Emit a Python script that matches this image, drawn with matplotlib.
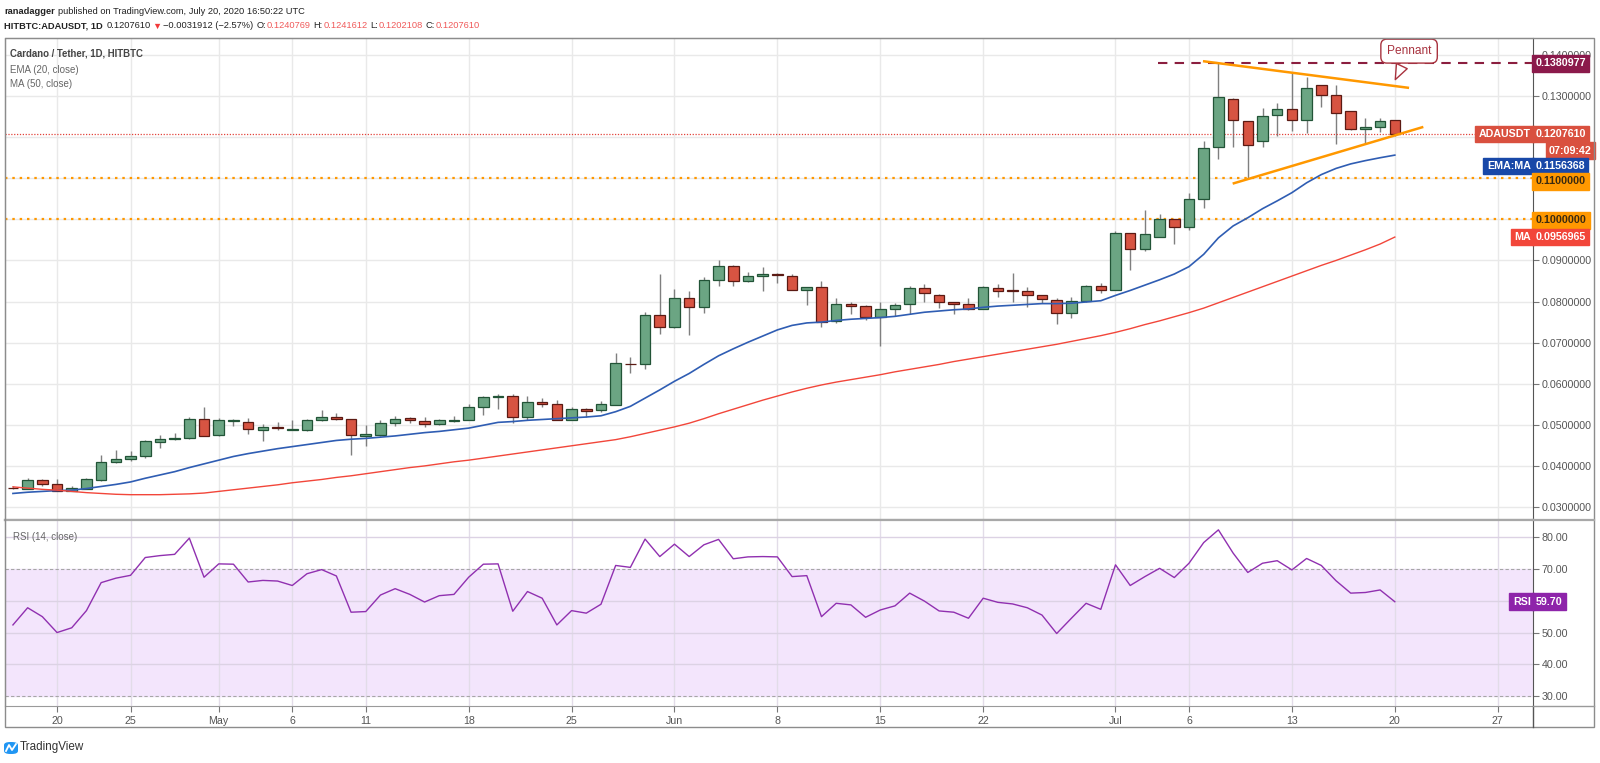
import numpy as np
import pandas as pd
import matplotlib
matplotlib.use('Agg')
import matplotlib.pyplot as plt
import matplotlib.dates as mdates
import matplotlib.transforms as mtrans
from matplotlib.patches import Rectangle, FancyBboxPatch
from matplotlib.lines import Line2D

plt.rcParams['font.family'] = ['Liberation Sans Narrow', 'Liberation Sans', 'DejaVu Sans']

# ── Data: ADA/USDT daily, Apr 17 - Jul 20 2020 ─────────────────────────
dates = pd.date_range('2020-04-17', periods=95, freq='D')

opens = [0.0347, 0.0344, 0.0365, 0.0356, 0.0340, 0.0345, 0.0366, 0.0409, 0.0417, 0.0423,
         0.0458, 0.0465, 0.0468, 0.0514, 0.0475, 0.0510, 0.0508, 0.0488, 0.0494, 0.0488,
         0.0487, 0.0512, 0.0519, 0.0514, 0.0474, 0.0476, 0.0504, 0.0517, 0.0510, 0.0502,
         0.0510, 0.0512, 0.0543, 0.0567, 0.0570, 0.0520, 0.0556, 0.0550, 0.0512, 0.0538,
         0.0537, 0.0549, 0.0649, 0.0648, 0.0767, 0.0739, 0.0808, 0.0787, 0.0853, 0.0887,
         0.0850, 0.0861, 0.0866, 0.0863, 0.0829, 0.0835, 0.0752, 0.0795, 0.0789, 0.0762,
         0.0783, 0.0794, 0.0833, 0.0815, 0.0798, 0.0794, 0.0782, 0.0834, 0.0827, 0.0825,
         0.0815, 0.0804, 0.0773, 0.0802, 0.0839, 0.0829, 0.0968, 0.0928, 0.0958, 0.1001,
         0.0981, 0.1050, 0.1176, 0.1294, 0.1239, 0.1191, 0.1253, 0.1269, 0.1243, 0.1326,
         0.1302, 0.1263, 0.1221, 0.1226, 0.1240769]
highs = [0.0350, 0.0371, 0.0369, 0.0367, 0.0351, 0.0370, 0.0427, 0.0439, 0.0437, 0.0463,
         0.0476, 0.0481, 0.0519, 0.0543, 0.0516, 0.0514, 0.0516, 0.0503, 0.0507, 0.0511,
         0.0513, 0.0537, 0.0530, 0.0515, 0.0500, 0.0512, 0.0521, 0.0520, 0.0519, 0.0514,
         0.0522, 0.0550, 0.0571, 0.0576, 0.0576, 0.0571, 0.0565, 0.0561, 0.0543, 0.0542,
         0.0559, 0.0675, 0.0666, 0.0775, 0.0867, 0.0831, 0.0825, 0.0860, 0.0900, 0.0890,
         0.0872, 0.0885, 0.0869, 0.0866, 0.0836, 0.0851, 0.0808, 0.0798, 0.0791, 0.0799,
         0.0796, 0.0838, 0.0843, 0.0818, 0.0800, 0.0808, 0.0837, 0.0843, 0.0870, 0.0835,
         0.0817, 0.0808, 0.0811, 0.0841, 0.0845, 0.0971, 0.0968, 0.1022, 0.1013, 0.1001,
         0.1063, 0.1191, 0.1381, 0.1295, 0.1240, 0.1272, 0.1282, 0.1358, 0.1347, 0.1326,
         0.1326, 0.1264, 0.1247, 0.1246, 0.1241612]
lows = [0.0344, 0.0343, 0.0352, 0.0338, 0.0338, 0.0344, 0.0364, 0.0406, 0.0413, 0.0419,
        0.0444, 0.0463, 0.0466, 0.0472, 0.0474, 0.0496, 0.0478, 0.0460, 0.0488, 0.0487,
        0.0486, 0.0510, 0.0512, 0.0427, 0.0448, 0.0474, 0.0497, 0.0505, 0.0495, 0.0499,
        0.0508, 0.0511, 0.0525, 0.0538, 0.0504, 0.0512, 0.0543, 0.0511, 0.0511, 0.0520,
        0.0531, 0.0548, 0.0626, 0.0636, 0.0721, 0.0735, 0.0719, 0.0772, 0.0839, 0.0839,
        0.0847, 0.0826, 0.0845, 0.0828, 0.0792, 0.0738, 0.0749, 0.0770, 0.0756, 0.0693,
        0.0764, 0.0770, 0.0800, 0.0784, 0.0769, 0.0780, 0.0781, 0.0812, 0.0800, 0.0786,
        0.0796, 0.0745, 0.0760, 0.0800, 0.0820, 0.0827, 0.0877, 0.0922, 0.0958, 0.0941,
        0.0975, 0.1028, 0.1148, 0.1176, 0.1101, 0.1177, 0.1203, 0.1216, 0.1209, 0.1273,
        0.1184, 0.1217, 0.1185, 0.1212, 0.1202108]
closes = [0.0346, 0.0365, 0.0356, 0.0339, 0.0347, 0.0368, 0.0409, 0.0417, 0.0425, 0.0461,
          0.0465, 0.0469, 0.0514, 0.0474, 0.0511, 0.0511, 0.0490, 0.0495, 0.0493, 0.0489,
          0.0512, 0.0519, 0.0514, 0.0476, 0.0478, 0.0504, 0.0514, 0.0512, 0.0502, 0.0511,
          0.0512, 0.0543, 0.0567, 0.0570, 0.0520, 0.0556, 0.0550, 0.0512, 0.0538, 0.0533,
          0.0550, 0.0650, 0.0648, 0.0767, 0.0739, 0.0808, 0.0787, 0.0853, 0.0887, 0.0850,
          0.0861, 0.0866, 0.0864, 0.0829, 0.0835, 0.0750, 0.0794, 0.0789, 0.0762, 0.0783,
          0.0791, 0.0833, 0.0821, 0.0798, 0.0794, 0.0782, 0.0835, 0.0826, 0.0825, 0.0817,
          0.0807, 0.0773, 0.0802, 0.0839, 0.0829, 0.0968, 0.0928, 0.0964, 0.1001, 0.0981,
          0.1050, 0.1174, 0.1298, 0.1242, 0.1181, 0.1251, 0.1269, 0.1243, 0.1320, 0.1302,
          0.1259, 0.1221, 0.1226, 0.1239, 0.1207610]

ema20 = [0.0333, 0.0336, 0.0338, 0.0340, 0.0341, 0.0345, 0.0350, 0.0355, 0.0361, 0.0370,
         0.0378, 0.0386, 0.0396, 0.0405, 0.0414, 0.0423, 0.0430, 0.0436, 0.0442, 0.0447,
         0.0452, 0.0457, 0.0462, 0.0465, 0.0467, 0.0470, 0.0473, 0.0477, 0.0481, 0.0484,
         0.0488, 0.0492, 0.0499, 0.0506, 0.0508, 0.0511, 0.0513, 0.0515, 0.0517, 0.0519,
         0.0522, 0.0532, 0.0545, 0.0565, 0.0585, 0.0606, 0.0625, 0.0647, 0.0668, 0.0685,
         0.0701, 0.0716, 0.0731, 0.0742, 0.0748, 0.0750, 0.0754, 0.0757, 0.0759, 0.0761,
         0.0764, 0.0769, 0.0774, 0.0777, 0.0780, 0.0782, 0.0786, 0.0789, 0.0791, 0.0793,
         0.0795, 0.0795, 0.0796, 0.0799, 0.0802, 0.0815, 0.0827, 0.0840, 0.0853, 0.0867,
         0.0885, 0.0915, 0.0955, 0.0984, 0.1004, 0.1026, 0.1045, 0.1065, 0.1089, 0.1109,
         0.1124, 0.1135, 0.1143, 0.1150, 0.1156368]
ma50 = [0.0349, 0.0346, 0.0343, 0.0341, 0.0338, 0.0335, 0.0333, 0.0331, 0.0330, 0.0330,
        0.0330, 0.0331, 0.0332, 0.0334, 0.0338, 0.0342, 0.0346, 0.0350, 0.0354, 0.0359,
        0.0363, 0.0367, 0.0372, 0.0376, 0.0381, 0.0386, 0.0391, 0.0396, 0.0400, 0.0405,
        0.0410, 0.0414, 0.0419, 0.0424, 0.0429, 0.0434, 0.0439, 0.0444, 0.0449, 0.0454,
        0.0459, 0.0464, 0.0471, 0.0479, 0.0487, 0.0495, 0.0504, 0.0515, 0.0527, 0.0538,
        0.0549, 0.0560, 0.0570, 0.0580, 0.0589, 0.0597, 0.0604, 0.0610, 0.0616, 0.0622,
        0.0629, 0.0635, 0.0641, 0.0647, 0.0654, 0.0660, 0.0666, 0.0672, 0.0678, 0.0684,
        0.0690, 0.0696, 0.0703, 0.0710, 0.0717, 0.0725, 0.0734, 0.0744, 0.0753, 0.0763,
        0.0773, 0.0784, 0.0797, 0.0810, 0.0823, 0.0836, 0.0849, 0.0862, 0.0875, 0.0888,
        0.0900, 0.0913, 0.0926, 0.0940, 0.0956965]
rsi14 = [52.4, 57.8, 55.0, 50.0, 51.5, 56.9, 65.7, 67.1, 68.0, 73.6,
         74.2, 74.6, 79.7, 67.4, 71.6, 71.5, 65.9, 66.4, 66.2, 64.8,
         68.5, 69.8, 67.8, 56.4, 56.6, 61.8, 63.8, 62.0, 59.6, 61.6,
         62.0, 67.4, 71.5, 71.6, 56.7, 62.9, 60.8, 52.4, 56.9, 56.1,
         58.9, 71.1, 70.5, 79.4, 73.9, 77.8, 73.9, 77.6, 79.3, 73.2,
         73.8, 73.9, 73.8, 67.6, 67.9, 55.0, 59.2, 58.7, 54.8, 57.1,
         58.4, 62.4, 59.9, 56.8, 56.4, 54.5, 60.8, 59.5, 59.0, 57.8,
         55.5, 49.7, 54.5, 59.2, 57.3, 71.3, 64.8, 67.6, 70.2, 67.3,
         71.8, 78.3, 82.3, 75.0, 68.9, 71.8, 72.6, 69.7, 73.3, 71.1,
         66.3, 62.4, 62.6, 63.4, 59.70]

last_price = 0.1207610
top_high = 0.1380977
support_levels = [0.11, 0.10]

# pennant trend lines: (day offset from first candle, price)
pennant_upper = [(80.95, 0.1385), (94.97, 0.1320)]
pennant_lower = [(82.97, 0.1087), (95.94, 0.1225)]

tick_dates = ['2020-04-20', '2020-04-25', '2020-05-01', '2020-05-06', '2020-05-11',
              '2020-05-18', '2020-05-25', '2020-06-01', '2020-06-08', '2020-06-15',
              '2020-06-22', '2020-07-01', '2020-07-06', '2020-07-13', '2020-07-20',
              '2020-07-27']
tick_labels = ['20', '25', 'May', '6', '11', '18', '25', 'Jun', '8', '15', '22',
               'Jul', '6', '13', '20', '27']

# ── Figure layout (pixel based) ─────────────────────────────────────────
W, H = 1600, 763
fig = plt.figure(figsize=(16, 7.63), dpi=100)
fig.patch.set_facecolor('white')


def fx(px):
    return px / W


def fy(py):
    return 1 - py / H


ax = fig.add_axes([fx(5), fy(520), (1533 - 5) / W, (520 - 38) / H])
rax = fig.add_axes([fx(5), fy(706), (1533 - 5) / W, (706 - 520) / H], sharex=ax)

x = mdates.date2num(dates)
x0 = x[0]
o = np.array(opens)
c = np.array(closes)
hi = np.array(highs)
lo = np.array(lows)
up = c >= o

GRID = '#e9e9e9'
TXT = '#555555'
FS = 7.7

# ── Main pane: candles + averages ───────────────────────────────────────
ax.vlines(x, lo, hi, color='#7f7f7f', lw=1, zorder=2)
body_bottom = np.minimum(o, c)
body_height = np.maximum(np.abs(c - o), 0.00006)
ax.bar(x, body_height, bottom=body_bottom, width=0.72,
       color=np.where(up, '#6ba583', '#d75442'),
       edgecolor=np.where(up, '#225437', '#5b1a13'), linewidth=0.9, zorder=3)

ax.plot(x, ema20, color='#2f5db3', lw=1.2, zorder=4)
ax.plot(x, ma50, color='#f2463a', lw=1.0, zorder=4)

for lvl in support_levels:
    ax.axhline(lvl, color='#ff9800', lw=1.6, ls=(0, (1.1, 2.2)), zorder=2.5)
ax.axhline(last_price, color='#e2423a', lw=0.9, ls=(0, (1, 1.3)), zorder=2.5)
ax.hlines(top_high, x0 + 77.9, x0 + 103.4, color='#8b1e3f', lw=1.5,
          ls=(0, (4.5, 3.5)), zorder=2.5)

for line in (pennant_upper, pennant_lower):
    ax.plot([x0 + line[0][0], x0 + line[1][0]], [line[0][1], line[1][1]],
            color='#ff9800', lw=1.8, zorder=5, solid_capstyle='butt')

ax.annotate('Pennant', xy=(x0 + 93.95, 0.1334), xytext=(x0 + 94.97, 0.14095),
            ha='center', va='center', fontsize=8.6, color='#a8323e',
            bbox=dict(boxstyle='round,pad=0.5,rounding_size=0.5', fc='white',
                      ec='#a8323e', lw=1),
            arrowprops=dict(arrowstyle='wedge,tail_width=1.0,shrink_factor=0.5',
                            fc='white', ec='#a8323e', lw=1),
            zorder=12, annotation_clip=False)

ax.set_xlim(x0 - 0.54, x0 + 103.4)
ax.set_ylim(0.02684, 0.14414)
yt = np.arange(0.03, 0.1401, 0.01)
ax.set_yticks(yt)
# labels covered by the value tags on the price scale are left blank
covered = (0.10, 0.11, 0.12)
ax.set_yticklabels(['' if round(v, 2) in covered else f'{v:.7f}' for v in yt])
ax.yaxis.tick_right()
ax.tick_params(axis='y', length=4, color='#777777', labelcolor=TXT,
               labelsize=FS, pad=2)
ax.tick_params(axis='x', bottom=False, labelbottom=False)
tick_nums = mdates.date2num(pd.to_datetime(tick_dates))
ax.set_xticks(tick_nums)
ax.grid(True, color=GRID, lw=1)
ax.set_axisbelow(True)
for s in ('left', 'top'):
    ax.spines[s].set_color('#9a9a9a')
ax.spines['right'].set_color('#555555')
ax.spines['bottom'].set_color('#a8a8a8')
ax.spines['bottom'].set_linewidth(1.6)

tr = mtrans.blended_transform_factory(ax.transAxes, ax.transData)


def axis_tag(axis, trans, y, text, bg, fg='white', fs=FS):
    axis.text(1.0016, y, text, transform=trans, ha='left', va='center', fontsize=fs,
              color=fg, fontweight='bold', clip_on=False, zorder=20,
              bbox=dict(boxstyle='square,pad=0.32', fc=bg, ec=bg))


def side_tag(axis, trans, y, text, bg, fg='white', fs=FS):
    axis.text(0.9985, y, text, transform=trans, ha='right', va='center', fontsize=fs,
              color=fg, fontweight='bold', clip_on=False, zorder=20,
              bbox=dict(boxstyle='square,pad=0.32', fc=bg, ec=bg))


axis_tag(ax, tr, top_high - 0.0001, f'{top_high:.7f}', '#8b1a4b')
axis_tag(ax, tr, last_price, f'{last_price:.7f}', '#d9503f')
side_tag(ax, tr, last_price, 'ADAUSDT', '#d9503f')
ax.text(1.0385, 0.11676, '07:09:42', transform=tr, ha='right', va='center',
        fontsize=FS, color='white', fontweight='bold', clip_on=False, zorder=20,
        bbox=dict(boxstyle='square,pad=0.32', fc='#d9503f', ec='#d9503f'))
axis_tag(ax, tr, 0.1130, f'{ema20[-1]:.7f}', '#1848a8')
side_tag(ax, tr, 0.1130, 'EMA:MA', '#1848a8')
axis_tag(ax, tr, 0.1093, '0.1100000', '#ff9800', fg='#3a2a10')
axis_tag(ax, tr, 0.0998, '0.1000000', '#ff9800', fg='#3a2a10')
axis_tag(ax, tr, ma50[-1], f'{ma50[-1]:.7f}', '#f2463a')
side_tag(ax, tr, ma50[-1], 'MA', '#f2463a')

# ── RSI pane ────────────────────────────────────────────────────────────
rax.axhspan(30, 70, color='#f3e5fc', zorder=0)
for lvl in (40, 50, 60, 80):
    rax.axhline(lvl, color='#dcd2e4', lw=1, zorder=0.6)
for lvl in (30, 70):
    rax.axhline(lvl, color='#a6a6a6', lw=0.8, ls=(0, (3, 2)), zorder=0.7)
for t in tick_nums:
    rax.axvline(t, color='#e2dce8', lw=1, zorder=0.5)
rax.plot(x, rsi14, color='#9030b0', lw=1.0, zorder=3)

rax.set_ylim(26.9, 85.4)
rt = [30, 40, 50, 60, 70, 80]
rax.set_yticks(rt)
rax.set_yticklabels(['' if v == 60 else f'{v:.2f}' for v in rt])
rax.yaxis.tick_right()
rax.tick_params(axis='y', length=4, color='#777777', labelcolor=TXT,
                labelsize=FS, pad=2)
rax.set_xticks(tick_nums)
rax.set_xticklabels(tick_labels)
rax.tick_params(axis='x', length=4, color='#777777', labelcolor=TXT,
                labelsize=FS, pad=3)
for s in ('left', 'bottom'):
    rax.spines[s].set_color('#9a9a9a')
rax.spines['right'].set_color('#555555')
rax.spines['top'].set_color('#a8a8a8')
rax.spines['top'].set_linewidth(1.6)

rtr = mtrans.blended_transform_factory(rax.transAxes, rax.transData)
axis_tag(rax, rtr, rsi14[-1], f'{rsi14[-1]:.2f}', '#8e24aa')
side_tag(rax, rtr, rsi14[-1], 'RSI', '#8e24aa')

# ── Frame and texts ─────────────────────────────────────────────────────
BOTTOM = 727
fig.add_artist(Rectangle((fx(5), fy(BOTTOM)), (1594 - 5) / W, (BOTTOM - 38) / H,
                         transform=fig.transFigure, fill=False, ec='#8c8c8c', lw=1))
fig.add_artist(Line2D([fx(1533), fx(1533)], [fy(706), fy(BOTTOM)],
                      transform=fig.transFigure, color='#555555', lw=1))
fig.add_artist(Line2D([fx(1533), fx(1594)], [fy(706), fy(706)],
                      transform=fig.transFigure, color='#9a9a9a', lw=1))
fig.add_artist(Line2D([fx(1533), fx(1594)], [fy(520), fy(520)],
                      transform=fig.transFigure, color='#a8a8a8', lw=1.6))

renderer = fig.canvas.get_renderer()


def chain_text(pieces, x_start, y, fs):
    # place text pieces one after another, measuring each one
    xpos = x_start
    for txt, col, wt, gap in pieces:
        t = fig.text(fx(xpos), fy(y), txt, fontsize=fs, color=col,
                     fontweight=wt, va='center', ha='left')
        bb = t.get_window_extent(renderer=renderer)
        xpos = bb.x1 + gap


HS = 6.7
chain_text([('ranadagger', '#222222', 'bold', 3),
            ('published on TradingView.com, July 20, 2020 16:50:22 UTC', '#222222',
             'normal', 0)], 4, 12, HS)
RED = '#f05a5a'
DARK = '#222222'
chain_text([('HITBTC:ADAUSDT, 1D', DARK, 'bold', 4),
            ('0.1207610', DARK, 'normal', 1),
            ('\u25bc', '#f23a3a', 'normal', 2),
            ('\u22120.0031912 (\u22122.57%)', DARK, 'normal', 3),
            ('O:', DARK, 'normal', 0.5),
            ('0.1240769', RED, 'normal', 3),
            ('H:', DARK, 'normal', 0.5),
            ('0.1241612', RED, 'normal', 3),
            ('L:', DARK, 'normal', 0.5),
            ('0.1202108', RED, 'normal', 3),
            ('C:', DARK, 'normal', 0.5),
            ('0.1207610', RED, 'normal', 0)], 4, 26, HS)

fig.text(fx(10), fy(54), 'Cardano / Tether, 1D, HITBTC', fontsize=6.9,
         color='#444444', fontweight='bold', va='center')
fig.text(fx(10), fy(70), 'EMA (20, close)', fontsize=7.0, color='#666666', va='center')
fig.text(fx(10), fy(84), 'MA (50, close)', fontsize=7.0, color='#666666', va='center')
fig.text(fx(13), fy(537), 'RSI (14, close)', fontsize=7.0, color='#666666', va='center')

# TradingView logo
fig.add_artist(FancyBboxPatch((fx(4), fy(754)), 14 / W, 12 / H,
                              boxstyle='round,pad=0,rounding_size=0.004',
                              transform=fig.transFigure, fc='#2196f3', ec='none'))
fig.add_artist(Line2D([fx(6), fx(9), fx(12), fx(16)], [fy(751), fy(745), fy(750), fy(744)],
                      transform=fig.transFigure, color='white', lw=1.3))
fig.text(fx(20), fy(747), 'TradingView', fontsize=8.4, color='#333333', va='center')

fig.savefig('out.png', dpi=100)
